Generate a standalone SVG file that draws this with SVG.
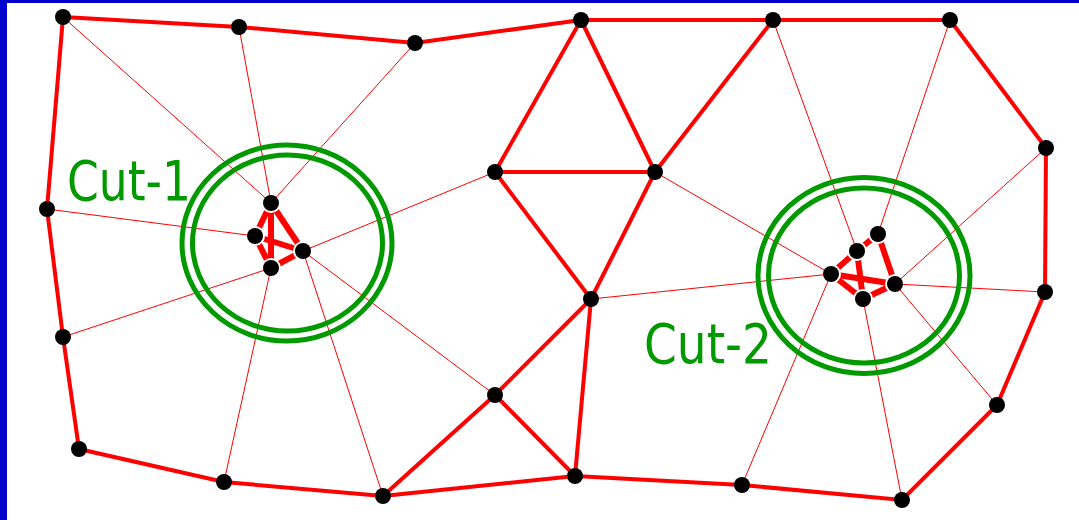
<svg xmlns="http://www.w3.org/2000/svg" width="1079" height="520" viewBox="0 0 1079 520">
<style>
.thick{stroke:#ff0000;stroke-width:4;fill:none;stroke-linecap:butt}
.inner{stroke:#ff0000;stroke-width:6;fill:none;stroke-linecap:butt}
.thin{stroke:#ff0000;stroke-width:1;fill:none}
.node{fill:#000000}
.halo{fill:#ffffff}
.ring{fill:none;stroke:#009900;stroke-width:5}
.lbl{font-family:"DejaVu Sans",Verdana,sans-serif;font-size:55px;fill:#009900}
</style>
<rect x="0" y="0" width="1079" height="520" fill="#ffffff"/>
<rect x="0" y="0" width="7" height="520" fill="#0000cc"/>
<rect x="0" y="0" width="1079" height="3" fill="#0000cc"/>

<g id="connectors">
<g id="boundary">
<polyline class="thick" points="63,17 239,27 415,43 581,20 773,20 950,20 1046,148 1045,292 997,405 902,500 742,485 575,476 383,496 224,482 79,449 63,337 47,209 63,17"/>
</g>
<g id="middle">
<line class="thick" x1="581" y1="20" x2="495" y2="172"/>
<line class="thick" x1="581" y1="20" x2="655" y2="172"/>
<line class="thick" x1="495" y1="172" x2="655" y2="172"/>
<line class="thick" x1="655" y1="172" x2="773" y2="20"/>
<line class="thick" x1="655" y1="172" x2="591" y2="299"/>
<line class="thick" x1="495" y1="172" x2="591" y2="299"/>
<line class="thick" x1="591" y1="299" x2="495" y2="395"/>
<line class="thick" x1="591" y1="299" x2="575" y2="476"/>
<line class="thick" x1="495" y1="395" x2="383" y2="496"/>
<line class="thick" x1="495" y1="395" x2="575" y2="476"/>
</g>
<g id="cut1-edges">
<line class="inner" x1="271" y1="203" x2="255" y2="236"/>
<line class="inner" x1="271" y1="203" x2="303" y2="251"/>
<line class="inner" x1="271" y1="203" x2="271" y2="268"/>
<line class="inner" x1="255" y1="236" x2="303" y2="251"/>
<line class="inner" x1="255" y1="236" x2="271" y2="268"/>
<line class="inner" x1="271" y1="268" x2="303" y2="251"/>
</g>
<g id="cut2-edges">
<line class="inner" x1="878" y1="234" x2="857" y2="251"/>
<line class="inner" x1="878" y1="234" x2="895" y2="284"/>
<line class="inner" x1="857" y1="251" x2="831" y2="274"/>
<line class="inner" x1="857" y1="251" x2="863" y2="299"/>
<line class="inner" x1="831" y1="274" x2="895" y2="284"/>
<line class="inner" x1="831" y1="274" x2="863" y2="299"/>
<line class="inner" x1="863" y1="299" x2="895" y2="284"/>
</g>
<g id="halos">
<circle class="halo" cx="271" cy="203" r="10"/>
<circle class="halo" cx="255" cy="236" r="10"/>
<circle class="halo" cx="303" cy="251" r="10"/>
<circle class="halo" cx="271" cy="268" r="10"/>
<circle class="halo" cx="878" cy="234" r="10"/>
<circle class="halo" cx="857" cy="251" r="10"/>
<circle class="halo" cx="831" cy="274" r="10"/>
<circle class="halo" cx="895" cy="284" r="10"/>
<circle class="halo" cx="863" cy="299" r="10"/>
</g>
<g id="spokes">
<line class="thin" x1="271" y1="203" x2="63" y2="17"/>
<line class="thin" x1="271" y1="203" x2="239" y2="27"/>
<line class="thin" x1="271" y1="203" x2="415" y2="43"/>
<line class="thin" x1="255" y1="236" x2="47" y2="209"/>
<line class="thin" x1="271" y1="268" x2="63" y2="337"/>
<line class="thin" x1="271" y1="268" x2="224" y2="482"/>
<line class="thin" x1="303" y1="251" x2="495" y2="172"/>
<line class="thin" x1="303" y1="251" x2="383" y2="496"/>
<line class="thin" x1="303" y1="251" x2="495" y2="395"/>
<line class="thin" x1="857" y1="251" x2="773" y2="20"/>
<line class="thin" x1="878" y1="234" x2="950" y2="20"/>
<line class="thin" x1="895" y1="284" x2="1046" y2="148"/>
<line class="thin" x1="895" y1="284" x2="1045" y2="292"/>
<line class="thin" x1="895" y1="284" x2="997" y2="405"/>
<line class="thin" x1="863" y1="299" x2="902" y2="500"/>
<line class="thin" x1="831" y1="274" x2="742" y2="485"/>
<line class="thin" x1="831" y1="274" x2="591" y2="299"/>
<line class="thin" x1="831" y1="274" x2="655" y2="172"/>
</g>
</g>

<g id="cut-1">
<ellipse class="ring" cx="287" cy="243" rx="105" ry="98"/>
<ellipse class="ring" cx="287.5" cy="243" rx="95" ry="88"/>
<text class="lbl" x="67" y="200" textLength="124" lengthAdjust="spacingAndGlyphs">Cut-1</text>
</g>
<g id="cut-2">
<ellipse class="ring" cx="864" cy="275.5" rx="106" ry="98"/>
<ellipse class="ring" cx="864" cy="275.5" rx="95.5" ry="87.5"/>
<text class="lbl" x="644" y="363" textLength="128" lengthAdjust="spacingAndGlyphs">Cut-2</text>
</g>

<g id="nodes">
<g id="n-A"><circle class="node" cx="63" cy="17" r="8"/></g>
<g id="n-B"><circle class="node" cx="239" cy="27" r="8"/></g>
<g id="n-C"><circle class="node" cx="415" cy="43" r="8"/></g>
<g id="n-D"><circle class="node" cx="581" cy="20" r="8"/></g>
<g id="n-E"><circle class="node" cx="773" cy="20" r="8"/></g>
<g id="n-F"><circle class="node" cx="950" cy="20" r="8"/></g>
<g id="n-G"><circle class="node" cx="1046" cy="148" r="8"/></g>
<g id="n-H"><circle class="node" cx="1045" cy="292" r="8"/></g>
<g id="n-I"><circle class="node" cx="997" cy="405" r="8"/></g>
<g id="n-J"><circle class="node" cx="902" cy="500" r="8"/></g>
<g id="n-K"><circle class="node" cx="742" cy="485" r="8"/></g>
<g id="n-L"><circle class="node" cx="575" cy="476" r="8"/></g>
<g id="n-M"><circle class="node" cx="383" cy="496" r="8"/></g>
<g id="n-N"><circle class="node" cx="224" cy="482" r="8"/></g>
<g id="n-O"><circle class="node" cx="79" cy="449" r="8"/></g>
<g id="n-P"><circle class="node" cx="63" cy="337" r="8"/></g>
<g id="n-Q"><circle class="node" cx="47" cy="209" r="8"/></g>
<g id="n-R"><circle class="node" cx="495" cy="172" r="8"/></g>
<g id="n-S"><circle class="node" cx="655" cy="172" r="8"/></g>
<g id="n-T"><circle class="node" cx="591" cy="299" r="8"/></g>
<g id="n-U"><circle class="node" cx="495" cy="395" r="8"/></g>
<g id="n-c1t"><circle class="node" cx="271" cy="203" r="8"/></g>
<g id="n-c1l"><circle class="node" cx="255" cy="236" r="8"/></g>
<g id="n-c1r"><circle class="node" cx="303" cy="251" r="8"/></g>
<g id="n-c1b"><circle class="node" cx="271" cy="268" r="8"/></g>
<g id="n-c2a"><circle class="node" cx="878" cy="234" r="8"/></g>
<g id="n-c2c"><circle class="node" cx="857" cy="251" r="8"/></g>
<g id="n-c2d"><circle class="node" cx="831" cy="274" r="8"/></g>
<g id="n-c2e"><circle class="node" cx="895" cy="284" r="8"/></g>
<g id="n-c2f"><circle class="node" cx="863" cy="299" r="8"/></g>
</g>
</svg>
